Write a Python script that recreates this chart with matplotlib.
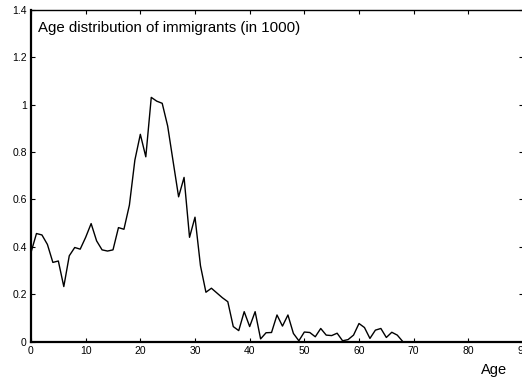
import numpy as np
import matplotlib
matplotlib.use('Agg')
import matplotlib.pyplot as plt

plt.rcParams['font.family'] = ['Liberation Sans', 'DejaVu Sans']

# age distribution of immigrants (in 1000), ages 0..68
ages = list(range(0, 69))
counts = [0.376, 0.456, 0.450, 0.410, 0.334, 0.340, 0.232, 0.362, 0.397, 0.390,
          0.440, 0.498, 0.425, 0.387, 0.382, 0.387, 0.481, 0.474, 0.576, 0.766,
          0.875, 0.780, 1.031, 1.015, 1.006, 0.910, 0.760, 0.611, 0.693, 0.440,
          0.525, 0.320, 0.208, 0.225, 0.205, 0.185, 0.168, 0.063, 0.046, 0.126,
          0.063, 0.126, 0.011, 0.037, 0.038, 0.112, 0.065, 0.112, 0.034, 0.003,
          0.040, 0.038, 0.020, 0.055, 0.027, 0.025, 0.035, 0.003, 0.008, 0.027,
          0.076, 0.059, 0.013, 0.048, 0.055, 0.017, 0.039, 0.027, 0.0]

xticks = list(range(0, 100, 10))
yticks = [0, 0.2, 0.4, 0.6, 0.8, 1.0, 1.2, 1.4]
ytick_labels = ['0', '0.2', '0.4', '0.6', '0.8', '1', '1.2', '1.4']

fig = plt.figure(figsize=(5.22, 3.79), dpi=100)
ax = fig.add_axes([31/522, 1 - 341.5/379, 492/522, 331.5/379])

ax.plot(ages, counts, color='black', lw=1.0)

ax.set_xlim(0, 90)
ax.set_ylim(0, 1.4)
ax.set_xticks(xticks)
ax.set_xticklabels([str(t) for t in xticks])
ax.set_yticks(yticks)
ax.set_yticklabels(ytick_labels)
ax.tick_params(direction='in', length=3, width=0.8, labelsize=7.5, pad=3,
               top=True, right=True)

ax.spines['left'].set_linewidth(1.6)
ax.spines['bottom'].set_linewidth(1.6)
ax.spines['top'].set_linewidth(1.0)
ax.spines['right'].set_linewidth(1.0)

ax.text(0.014, 0.967, 'Age distribution of immigrants (in 1000)', transform=ax.transAxes,
        ha='left', va='top', fontsize=10.8)
fig.text(494/522, 1 - 370/379, 'Age', ha='center', va='center', fontsize=10.5)

fig.savefig('out.png', dpi=100)
